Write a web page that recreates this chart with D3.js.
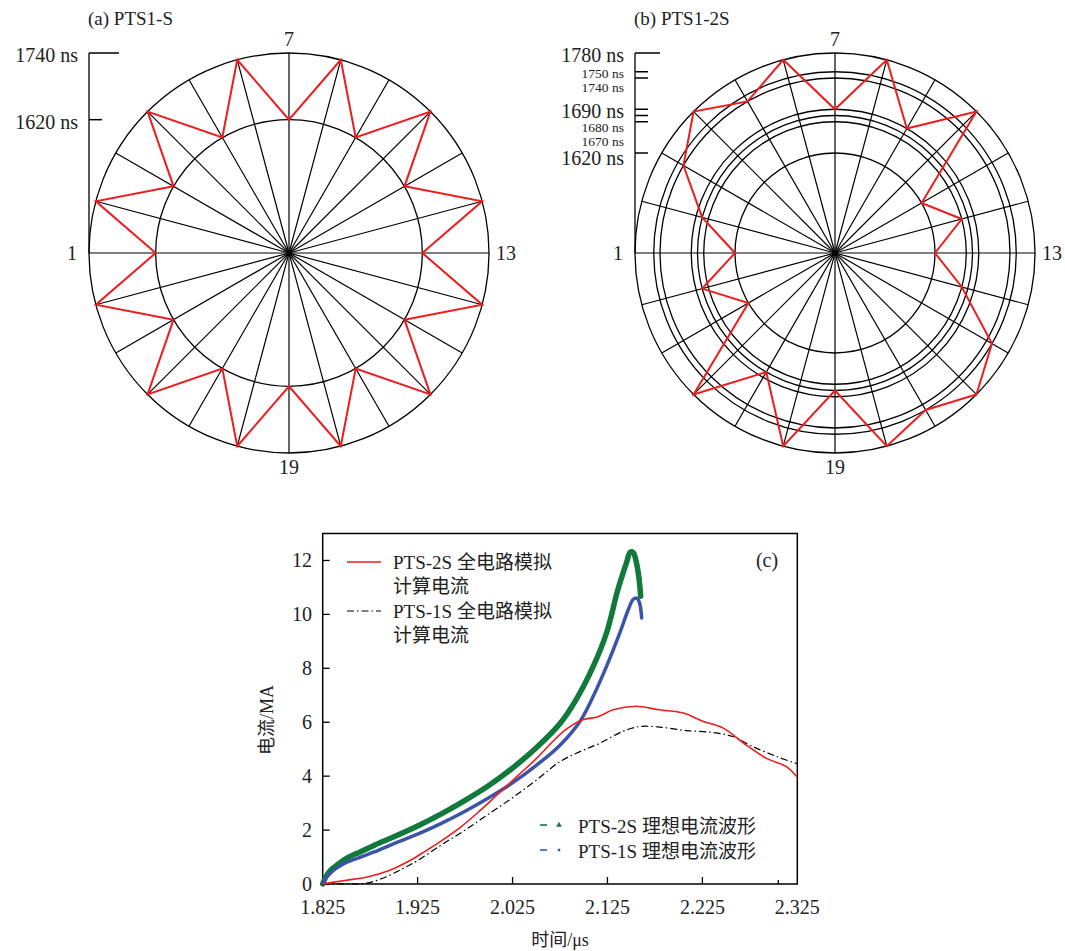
<!DOCTYPE html>
<html><head><meta charset="utf-8">
<script src="https://cdn.jsdelivr.net/npm/d3@7"></script>
<style>body{margin:0;background:#fff} svg{display:block}</style>
</head><body><svg id="c" width="1065" height="951"></svg>
<script>
// ---------------- data ----------------
const spokeIds = d3.range(1, 25);              // 24 switch branches
const spokeLabelIds = [1, 7, 13, 19];
// (a) PTS1-S
const titleA = "(a) PTS1-S";
const ringsA = [1620, 1740];
const delayA = [1620,1740,1620,1740,1620,1740,1620,1740,1620,1740,1620,1740,
                1620,1740,1620,1740,1620,1740,1620,1740,1620,1740,1620,1740];
const axisTicksA = [1740, 1620];
const majorTicksA = [1740, 1620];
// (b) PTS1-2S
const titleB = "(b) PTS1-2S";
const ringsB = [1620, 1670, 1680, 1690, 1740, 1750, 1780];
const delayB = [1620,1680,1740,1780,1740,1780,1690,1780,1690,1780,1620,1670,
                1620,1670,1750,1780,1750,1780,1680,1780,1680,1780,1620,1680];
const axisTicksB = [1780, 1750, 1740, 1690, 1680, 1670, 1620];
const majorTicksB = [1780, 1690, 1620];
// (c) currents
const xTicks = [1.825, 1.925, 2.025, 2.125, 2.225, 2.325];
const xMinorTicks = [2.305];
const yTicks = [0, 2, 4, 6, 8, 10, 12];
const tRed   = [1.825,1.835,1.85,1.871,1.895,1.917,1.93,1.95,1.97,1.99,2.01,2.03,2.05,2.065,2.08,2.099,2.115,2.131,2.155,2.18,2.205,2.226,2.247,2.271,2.292,2.313,2.325];
const iRed   = [0,0.06,0.14,0.25,0.5,0.87,1.15,1.6,2.1,2.7,3.35,4.0,4.65,5.2,5.7,6.09,6.2,6.46,6.59,6.46,6.34,6.03,5.78,5.16,4.67,4.36,3.96];
const tBlack = [1.825,1.85,1.871,1.892,1.91,1.926,1.95,1.975,2.0,2.025,2.05,2.075,2.096,2.117,2.141,2.159,2.18,2.208,2.236,2.257,2.278,2.303,2.325];
const iBlack = [0,0.01,0.03,0.27,0.58,0.89,1.45,2.0,2.6,3.2,3.85,4.54,4.91,5.22,5.66,5.84,5.82,5.69,5.62,5.47,5.10,4.73,4.46];
const tGreen = [1.825,1.828,1.833,1.84,1.85,1.865,1.88,1.9,1.925,1.95,1.975,2.0,2.025,2.05,2.075,2.092,2.11,2.124,2.136,2.145,2.149,2.152,2.155,2.158,2.16];
const iGreen = [0,0.25,0.5,0.7,0.95,1.2,1.45,1.75,2.15,2.6,3.1,3.65,4.3,5.05,5.95,6.84,8.07,9.31,10.92,11.91,12.3,12.3,12.0,11.4,10.67];
const tBlue  = [1.825,1.828,1.833,1.84,1.85,1.865,1.88,1.9,1.925,1.95,1.975,2.0,2.025,2.05,2.075,2.096,2.11,2.124,2.138,2.147,2.152,2.156,2.159,2.161];
const iBlue  = [0,0.2,0.4,0.6,0.8,1.0,1.2,1.5,1.85,2.25,2.7,3.2,3.75,4.4,5.15,6.03,6.96,8.07,9.31,10.18,10.55,10.6,10.4,9.87];
const legendTop = [["PTS-2S 全电路模拟","计算电流"],["PTS-1S 全电路模拟","计算电流"]];
const legendBottom = ["PTS-2S 理想电流波形","PTS-1S 理想电流波形"];
const xTitle = "时间/μs", yTitle = "电流/MA", panelC = "(c)";

// ---------------- drawing ----------------
const FONT = "'Liberation Serif','Noto Sans CJK SC',serif";
const svg = d3.select("#c").style("font-family", FONT);
const fmtNs = v => v + " ns";

function polar(cfg) {
  const {cx, cy, R, domain, rings, delay, ticks, major, title} = cfg;
  const g = svg.append("g");
  const r = d3.scaleLinear().domain(domain).range([0, R]);
  const ang = d3.scaleLinear().domain([1, 25]).range([Math.PI, -Math.PI]);
  const pt = (k, rad) => [cx + rad * Math.cos(ang(k)), cy - rad * Math.sin(ang(k))];
  g.selectAll("circle.ring").data(rings).join("circle")
    .attr("cx", cx).attr("cy", cy).attr("r", d => r(d))
    .attr("fill", "none").attr("stroke", "#000").attr("stroke-width", 1.3);
  g.selectAll("line.spoke").data(spokeIds).join("line")
    .attr("x1", cx).attr("y1", cy)
    .attr("x2", d => pt(d, R)[0]).attr("y2", d => pt(d, R)[1])
    .attr("stroke", "#000").attr("stroke-width", 1.2);
  const poly = spokeIds.map((k, i) => pt(k, r(delay[i])));
  g.append("path").attr("d", d3.line().curve(d3.curveLinearClosed)(poly))
    .attr("fill", "none").attr("stroke", "#ee1c1c").attr("stroke-width", 2);
  g.selectAll("text.sl").data(spokeLabelIds).join("text")
    .attr("x", d => pt(d, R + 17)[0]).attr("y", d => pt(d, R + 14)[1])
    .attr("text-anchor", "middle").attr("dominant-baseline", "central")
    .attr("font-size", 20).attr("fill", "#222").text(d => d);
  const ax = cx - R;
  g.append("line").attr("x1", ax).attr("x2", ax)
    .attr("y1", cy - r(d3.max(ticks))).attr("y2", cy)
    .attr("stroke", "#000").attr("stroke-width", 1.3);
  const sorted = ticks.slice().sort((a, b) => b - a);
  let prevY = -1e9, prevMaj = true;
  sorted.forEach((t, i) => {
    const y = cy - r(t);
    const isMaj = major.includes(t);
    const len = i === 0 ? cfg.topTick : 13;
    g.append("line").attr("x1", ax).attr("x2", ax + len).attr("y1", y).attr("y2", y)
      .attr("stroke", "#000").attr("stroke-width", 1.5);
    const gap = (isMaj || prevMaj) ? (isMaj && prevMaj ? 22 : 16.5) : 13.5;
    const ly = Math.max(y + 2, prevY + gap);
    prevY = ly; prevMaj = isMaj;
    g.append("text").attr("x", ax - 11).attr("y", ly)
      .attr("text-anchor", "end").attr("dominant-baseline", "central")
      .attr("font-size", isMaj ? 20 : 13.5).attr("fill", "#222").text(fmtNs(t));
  });
  g.append("text").attr("x", ax - 1).attr("y", 18).attr("dominant-baseline", "central")
    .attr("font-size", 19).attr("fill", "#222").text(title);
}

polar({cx: 289, cy: 253, R: 200, domain: [1380, 1740], rings: ringsA, delay: delayA,
       ticks: axisTicksA, major: majorTicksA, title: titleA, topTick: 30});
polar({cx: 835, cy: 253, R: 200, domain: [1460, 1780], rings: ringsB, delay: delayB,
       ticks: axisTicksB, major: majorTicksB, title: titleB, topTick: 25});

// ---------- panel (c) ----------
const L = 322.7, Rr = 797.3, T = 533.5, B = 884;
const x = d3.scaleLinear().domain([1.825, 2.325]).range([L, Rr]);
const y = d3.scaleLinear().domain([0, 13]).range([B, T]);
const gc = svg.append("g");
gc.append("rect").attr("x", L).attr("y", T).attr("width", Rr - L).attr("height", B - T)
  .attr("fill", "none").attr("stroke", "#000").attr("stroke-width", 1.5);
gc.selectAll("line.xt").data(xTicks.slice(0, -1)).join("line")
  .attr("x1", d => x(d)).attr("x2", d => x(d)).attr("y1", B).attr("y2", B - 7)
  .attr("stroke", "#000").attr("stroke-width", 1.3);
gc.selectAll("line.xm").data(xMinorTicks).join("line")
  .attr("x1", d => x(d)).attr("x2", d => x(d)).attr("y1", B).attr("y2", B - 4)
  .attr("stroke", "#000").attr("stroke-width", 1.3);
gc.selectAll("text.xt").data(xTicks).join("text")
  .attr("x", d => x(d)).attr("y", 907).attr("text-anchor", "middle")
  .attr("dominant-baseline", "central").attr("font-size", 20).attr("fill", "#222")
  .text(d => d3.format(".3f")(d));
gc.selectAll("line.yt").data(yTicks).join("line")
  .attr("x1", L).attr("x2", L + 7).attr("y1", d => y(d)).attr("y2", d => y(d))
  .attr("stroke", "#000").attr("stroke-width", 1.3);
gc.selectAll("text.yt").data(yTicks).join("text")
  .attr("x", 312).attr("y", d => y(d)).attr("text-anchor", "end")
  .attr("dominant-baseline", "central").attr("font-size", 20).attr("fill", "#222")
  .text(d => d);
gc.append("text").attr("x", 560).attr("y", 940).attr("text-anchor", "middle")
  .attr("dominant-baseline", "central").attr("font-size", 18).attr("fill", "#222").text(xTitle);
gc.append("text").attr("transform", "translate(267,720) rotate(-90)").attr("text-anchor", "middle")
  .attr("dominant-baseline", "central").attr("font-size", 18).attr("fill", "#222").text(yTitle);
gc.append("text").attr("x", 767).attr("y", 560).attr("text-anchor", "middle")
  .attr("dominant-baseline", "central").attr("font-size", 20).attr("fill", "#222").text(panelC);

const line = d3.line().x(d => x(d[0])).y(d => y(d[1])).curve(d3.curveCatmullRom.alpha(0.5));
const zip = (a, b) => a.map((v, i) => [v, b[i]]);
gc.append("path").attr("d", line(zip(tGreen, iGreen))).attr("fill", "none")
  .attr("stroke", "#0f7a3a").attr("stroke-width", 5.5).attr("stroke-linecap", "round");
gc.append("path").attr("d", line(zip(tBlue, iBlue))).attr("fill", "none")
  .attr("stroke", "#3a55a8").attr("stroke-width", 3.5).attr("stroke-linecap", "round");
gc.append("path").attr("d", line(zip(tBlack, iBlack))).attr("fill", "none")
  .attr("stroke", "#000").attr("stroke-width", 1.2).attr("stroke-dasharray", "7,3,1.5,3");
gc.append("path").attr("d", line(zip(tRed, iRed))).attr("fill", "none")
  .attr("stroke", "#ee1c1c").attr("stroke-width", 1.6);

const lt = [{y: 562, color: "#ee1c1c", dash: null, w: 1.6}, {y: 611, color: "#000", dash: "7,3,1.5,3", w: 1.2}];
lt.forEach((s, i) => {
  gc.append("line").attr("x1", 347).attr("x2", 381).attr("y1", s.y).attr("y2", s.y)
    .attr("stroke", s.color).attr("stroke-width", s.w).attr("stroke-dasharray", s.dash);
  legendTop[i].forEach((txt, j) => {
    gc.append("text").attr("x", 393).attr("y", s.y + j * 24).attr("dominant-baseline", "central")
      .attr("font-size", 19).attr("fill", "#222").text(txt);
  });
});
const lb = [{y: 825, color: "#0f7a3a"}, {y: 850, color: "#3a55a8"}];
lb.forEach((s, i) => {
  gc.append("line").attr("x1", 540).attr("x2", 547).attr("y1", s.y).attr("y2", s.y)
    .attr("stroke", s.color).attr("stroke-width", 1.6);
  gc.append("path").attr("d", d3.symbol(i === 0 ? d3.symbolTriangle : d3.symbolSquare, i === 0 ? 14 : 6)())
    .attr("transform", `translate(559,${s.y})`).attr("fill", s.color);
  gc.append("text").attr("x", 578).attr("y", s.y + 1).attr("dominant-baseline", "central")
    .attr("font-size", 19).attr("fill", "#222").text(legendBottom[i]);
});
</script></body></html>
